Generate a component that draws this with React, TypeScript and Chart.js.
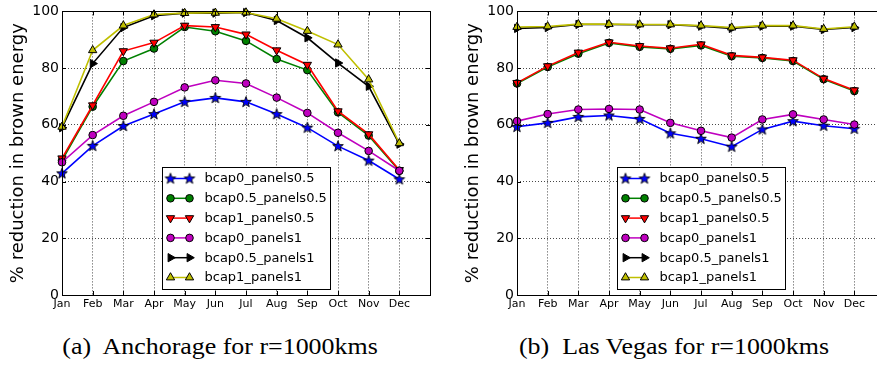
import React, { useEffect, useRef } from "react";
import { Chart, registerables } from "chart.js";

Chart.register(...registerables);

// ---------- data ----------
const months = ["Jan", "Feb", "Mar", "Apr", "May", "Jun", "Jul", "Aug", "Sep", "Oct", "Nov", "Dec"];
const seriesLabels = [
  "bcap0_panels0.5",
  "bcap0.5_panels0.5",
  "bcap1_panels0.5",
  "bcap0_panels1",
  "bcap0.5_panels1",
  "bcap1_panels1",
];
const yTickValues = [0, 20, 40, 60, 80, 100];
const yAxisTitle = "% reduction in brown energy";
const captionA = "(a)  Anchorage for r=1000kms";
const captionB = "(b)  Las Vegas for r=1000kms";

// Anchorage
const anchBcap0Pan05 = [42.9, 52.6, 59.6, 63.8, 68.1, 69.5, 68.1, 63.8, 59.0, 52.5, 47.4, 40.8];
const anchBcap05Pan05 = [47.5, 66.4, 82.5, 86.9, 94.5, 93.0, 89.6, 83.2, 79.3, 64.4, 56.2, 43.8];
const anchBcap1Pan05 = [48.2, 66.9, 86.0, 89.0, 95.0, 94.5, 91.9, 86.3, 81.2, 64.8, 56.7, 44.1];
const anchBcap0Pan1 = [46.8, 56.4, 63.2, 68.1, 73.2, 75.7, 74.6, 69.6, 64.2, 57.2, 50.8, 43.8];
const anchBcap05Pan1 = [59.0, 81.6, 94.3, 98.5, 99.4, 99.4, 99.6, 96.8, 90.7, 81.8, 73.6, 53.2];
const anchBcap1Pan1 = [59.3, 86.3, 95.0, 98.9, 99.4, 99.5, 99.6, 97.4, 93.1, 88.3, 76.0, 53.5];

// Las Vegas
const vegasBcap0Pan05 = [59.3, 60.7, 62.8, 63.3, 62.1, 57.0, 55.1, 52.3, 58.4, 61.3, 59.7, 58.6];
const vegasBcap05Pan05 = [74.6, 80.4, 85.1, 88.9, 87.5, 86.8, 88.0, 84.2, 83.6, 82.5, 76.1, 71.9];
const vegasBcap1Pan05 = [74.8, 80.7, 85.5, 89.1, 87.8, 87.0, 88.4, 84.5, 83.8, 82.8, 76.3, 72.2];
const vegasBcap0Pan1 = [61.3, 63.8, 65.4, 65.6, 65.4, 60.7, 57.9, 55.5, 61.9, 63.7, 61.9, 60.1];
const vegasBcap05Pan1 = [94.0, 94.3, 95.4, 95.4, 95.3, 95.3, 94.8, 94.0, 94.8, 94.8, 93.6, 94.3];
const vegasBcap1Pan1 = [94.5, 94.7, 95.5, 95.5, 95.4, 95.4, 95.0, 94.3, 95.0, 95.0, 93.8, 94.6];

const anchorageSeries = [anchBcap0Pan05, anchBcap05Pan05, anchBcap1Pan05, anchBcap0Pan1, anchBcap05Pan1, anchBcap1Pan1];
const vegasSeries = [vegasBcap0Pan05, vegasBcap05Pan05, vegasBcap1Pan05, vegasBcap0Pan1, vegasBcap05Pan1, vegasBcap1Pan1];

// ---------- styles ----------
const seriesColors = ["#0000ff", "#008000", "#ff0000", "#bf00bf", "#000000", "#bfbf00"];
const seriesMarkers = ["star", "circle", "triDown", "circle", "triRight", "triUp"];
const FONT = "'DejaVu Sans', sans-serif";

function makeStar(fill: string): HTMLCanvasElement {
  const c = document.createElement("canvas");
  c.width = 14;
  c.height = 14;
  const ctx = c.getContext("2d")!;
  const cx = 7, cy = 7.3, R = 5.6, r = 2.3;
  ctx.beginPath();
  for (let i = 0; i < 10; i++) {
    const rad = (Math.PI / 5) * i - Math.PI / 2;
    const rr = i % 2 === 0 ? R : r;
    const px = cx + Math.cos(rad) * rr;
    const py = cy + Math.sin(rad) * rr;
    if (i === 0) ctx.moveTo(px, py);
    else ctx.lineTo(px, py);
  }
  ctx.closePath();
  ctx.fillStyle = fill;
  ctx.fill();
  ctx.lineWidth = 0.9;
  ctx.strokeStyle = "#000";
  ctx.stroke();
  return c;
}

function markerProps(kind: string, color: string) {
  switch (kind) {
    case "star":
      return { pointStyle: makeStar(color), pointRadius: 5, pointRotation: 0 };
    case "circle":
      return { pointStyle: "circle", pointRadius: 3.8, pointRotation: 0 };
    case "triDown":
      return { pointStyle: "triangle", pointRadius: 4.8, pointRotation: 180 };
    case "triRight":
      return { pointStyle: "triangle", pointRadius: 4.8, pointRotation: 90 };
    default:
      return { pointStyle: "triangle", pointRadius: 4.8, pointRotation: 0 };
  }
}

function drawMarker(ctx: CanvasRenderingContext2D, ds: any, x: number, y: number) {
  const style = ds.pointStyle;
  if (style instanceof HTMLCanvasElement) {
    ctx.drawImage(style, x - style.width / 2, y - style.height / 2);
    return;
  }
  ctx.save();
  ctx.fillStyle = ds.pointBackgroundColor;
  ctx.strokeStyle = "#000";
  ctx.lineWidth = 1;
  ctx.beginPath();
  if (style === "circle") {
    ctx.arc(x, y, ds.pointRadius, 0, Math.PI * 2);
  } else {
    let rad = (ds.pointRotation * Math.PI) / 180;
    const r = ds.pointRadius;
    for (let i = 0; i < 3; i++) {
      const px = x + Math.sin(rad) * r;
      const py = y - Math.cos(rad) * r;
      if (i === 0) ctx.moveTo(px, py);
      else ctx.lineTo(px, py);
      rad += (2 * Math.PI) / 3;
    }
    ctx.closePath();
  }
  ctx.fill();
  ctx.stroke();
  ctx.restore();
}

const framePlugin = {
  id: "frameAndLegend",
  afterDraw(chart: any) {
    const { ctx, chartArea: a, scales } = chart;
    const xs = scales.x;
    const ys = scales.y;
    ctx.save();
    ctx.strokeStyle = "#000";
    ctx.lineWidth = 1;
    // inward ticks
    ctx.beginPath();
    for (let i = 0; i <= months.length; i++) {
      const px = Math.round(xs.getPixelForValue(i)) + 0.5;
      ctx.moveTo(px, a.bottom);
      ctx.lineTo(px, a.bottom - 4);
      ctx.moveTo(px, a.top);
      ctx.lineTo(px, a.top + 4);
    }
    yTickValues.forEach((v) => {
      const py = Math.round(ys.getPixelForValue(v)) + 0.5;
      ctx.moveTo(a.left, py);
      ctx.lineTo(a.left + 4, py);
      ctx.moveTo(a.right, py);
      ctx.lineTo(a.right - 4, py);
    });
    ctx.stroke();
    // frame
    ctx.strokeRect(Math.round(a.left) + 0.5, Math.round(a.top) + 0.5, Math.round(a.right - a.left), Math.round(a.bottom - a.top));

    // legend (lower center)
    const boxW = 168;
    const boxH = 122;
    const bx = Math.round((a.left + a.right) / 2 - boxW / 2) + 0.5;
    const by = Math.round(a.bottom - 6 - boxH) + 0.5;
    ctx.fillStyle = "#fff";
    ctx.fillRect(bx, by, boxW, boxH);
    ctx.strokeRect(bx, by, boxW, boxH);
    ctx.font = `13px ${FONT}`;
    ctx.textBaseline = "middle";
    ctx.textAlign = "left";
    chart.data.datasets.forEach((ds: any, i: number) => {
      const cy = by + 11 + i * 19.8;
      const x0 = bx + 8;
      const x1 = bx + 27;
      ctx.strokeStyle = ds.borderColor;
      ctx.lineWidth = 1.5;
      ctx.beginPath();
      ctx.moveTo(x0, cy);
      ctx.lineTo(x1, cy);
      ctx.stroke();
      drawMarker(ctx, ds, x0, cy);
      drawMarker(ctx, ds, x1, cy);
      ctx.fillStyle = "#000";
      ctx.fillText(ds.label, bx + 42, cy + 0.5);
    });
    ctx.restore();
  },
};

function SubChart({ series, left }: { series: number[][]; left: number }) {
  const ref = useRef<HTMLCanvasElement | null>(null);
  useEffect(() => {
    if (!ref.current) return;
    const datasets = series.map((vals, i) => ({
      label: seriesLabels[i],
      data: vals.map((v, j) => ({ x: j, y: v })),
      borderColor: seriesColors[i],
      backgroundColor: seriesColors[i],
      pointBackgroundColor: seriesColors[i],
      pointBorderColor: "#000",
      pointBorderWidth: 1,
      borderWidth: 1.6,
      tension: 0,
      clip: false as any,
      order: series.length - i,
      ...markerProps(seriesMarkers[i], seriesColors[i]),
    }));
    const grid = {
      color: "#333",
      lineWidth: 0.9,
      drawTicks: false,
      tickLength: 0,
    };
    const chart = new Chart(ref.current, {
      type: "line",
      data: { datasets },
      plugins: [framePlugin],
      options: {
        animation: false,
        responsive: false,
        devicePixelRatio: 1,
        layout: { padding: { top: 11, right: 10, left: 0, bottom: 0 } },
        plugins: { legend: { display: false }, tooltip: { enabled: false } },
        scales: {
          x: {
            type: "linear",
            min: 0,
            max: 12,
            border: { display: false, dash: [1, 2] },
            grid,
            afterBuildTicks: (scale: any) => {
              scale.ticks = months.map((_, i) => ({ value: i }));
            },
            afterFit: (scale: any) => {
              scale.height = 25;
            },
            ticks: {
              autoSkip: false,
              maxRotation: 0,
              padding: 3,
              color: "#000",
              font: { family: FONT, size: 11 },
              callback: (v: any) => months[v] ?? "",
            },
          },
          y: {
            min: 0,
            max: 100,
            border: { display: false, dash: [1, 2] },
            grid,
            afterBuildTicks: (scale: any) => {
              scale.ticks = yTickValues.map((v) => ({ value: v }));
            },
            afterFit: (scale: any) => {
              scale.width = 62;
            },
            ticks: {
              padding: 3,
              color: "#000",
              font: { family: FONT, size: 14 },
            },
            title: {
              display: true,
              text: yAxisTitle,
              color: "#000",
              font: { family: FONT, size: 18 },
              padding: { top: 8, bottom: 0 },
            },
          },
        },
      } as any,
    });
    return () => chart.destroy();
  }, [series]);
  return (
    <div style={{ position: "absolute", left, top: 0 }}>
      <canvas ref={ref} width={440} height={320} style={{ display: "block" }} />
    </div>
  );
}

const captionStyle: React.CSSProperties = {
  position: "absolute",
  top: 334,
  width: 400,
  textAlign: "center",
  fontFamily: "'Liberation Serif', 'Times New Roman', serif",
  fontSize: 24,
  lineHeight: "24px",
  whiteSpace: "pre",
  color: "#000",
  transform: "scaleX(1.08)",
};

export default function App() {
  return (
    <div
      style={{
        position: "absolute",
        left: 0,
        top: 0,
        width: 877,
        height: 366,
        overflow: "hidden",
        background: "#fff",
      }}
    >
      <SubChart series={anchorageSeries} left={0} />
      <SubChart series={vegasSeries} left={455} />
      <div style={{ ...captionStyle, left: 220 - 200 }}>{captionA}</div>
      <div style={{ ...captionStyle, left: 674 - 200 }}>{captionB}</div>
    </div>
  );
}
